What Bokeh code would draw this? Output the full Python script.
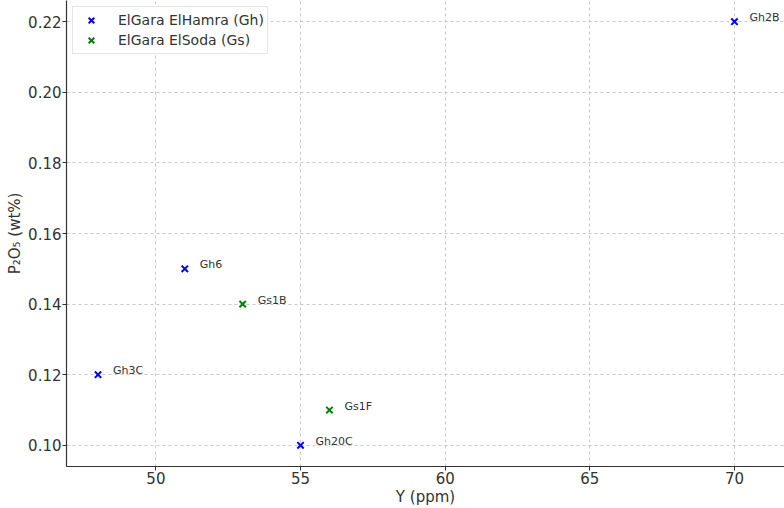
from bokeh.plotting import figure
from bokeh.models import ColumnDataSource, Range1d, FixedTicker, Legend, LegendItem, LabelSet, NumeralTickFormatter
from bokeh.core.properties import value
from bokeh.embed import file_html
from bokeh.resources import INLINE

gh_y = [70, 51, 48, 55]
gh_p = [0.22, 0.15, 0.12, 0.10]
gh_names = ["Gh2B", "Gh6", "Gh3C", "Gh20C"]
gs_y = [53, 56]
gs_p = [0.14, 0.11]
gs_names = ["Gs1B", "Gs1F"]
x_ticks = [50, 55, 60, 65, 70]
y_ticks = [0.10, 0.12, 0.14, 0.16, 0.18, 0.20, 0.22]

FONT = "DejaVu Sans"

p = figure(width=784, height=508, output_backend="svg", toolbar_location=None,
           x_range=Range1d(46.91, 71.73), y_range=Range1d(0.094, 0.226),
           min_border_left=66, min_border_right=0, min_border_top=0, min_border_bottom=42)
p.outline_line_color = None
p.background_fill_color = "white"
p.border_fill_color = "white"

for ax in (p.xaxis[0], p.yaxis[0]):
    ax.major_tick_in = 0
    ax.major_tick_out = 4
    ax.minor_tick_in = 0
    ax.minor_tick_out = 0
    ax.axis_line_color = "#333333"
    ax.axis_line_width = 1.2
    ax.major_tick_line_color = "#333333"
    ax.major_label_text_font = FONT
    ax.major_label_text_font_size = "15px"
    ax.major_label_text_color = "#333333"
    ax.major_label_text_line_height = 1.0
    ax.major_label_standoff = 1
    ax.axis_label_text_font = FONT
    ax.axis_label_text_font_size = "15px"
    ax.axis_label_text_font_style = "normal"
    ax.axis_label_text_color = "#333333"
    ax.axis_label_text_line_height = 1.0
    ax.axis_label_standoff = 1

p.xaxis[0].ticker = FixedTicker(ticks=x_ticks)
p.yaxis[0].ticker = FixedTicker(ticks=y_ticks)
p.yaxis[0].formatter = NumeralTickFormatter(format="0.00")
p.xaxis[0].axis_label = "Y (ppm)"
p.yaxis[0].axis_label = "P\u2082O\u2085 (wt%)"

for g in (p.xgrid[0], p.ygrid[0]):
    g.grid_line_color = "#b0b0b0"
    g.grid_line_dash = "3 3"
    g.grid_line_alpha = 0.7

src_gh = ColumnDataSource(dict(x=gh_y, y=gh_p, name=gh_names))
src_gs = ColumnDataSource(dict(x=gs_y, y=gs_p, name=gs_names))

r_gh = p.scatter("x", "y", source=src_gh, marker="x", size=9, line_color="#0000ff", line_width=2)
r_gs = p.scatter("x", "y", source=src_gs, marker="x", size=9, line_color="#008000", line_width=2)

for src in (src_gh, src_gs):
    lbl = LabelSet(x="x", y="y", text="name", source=src, x_offset=15, y_offset=4,
                   text_font=value(FONT), text_font_size="11px", text_color="#333333",
                   text_baseline="middle")
    p.add_layout(lbl)

legend = Legend(items=[LegendItem(label="ElGara ElHamra (Gh)", renderers=[r_gh]),
                       LegendItem(label="ElGara ElSoda (Gs)", renderers=[r_gs])],
                location="top_left")
legend.label_text_font = FONT
legend.label_text_font_size = "14px"
legend.label_text_color = "#333333"
legend.border_line_color = "#cccccc"
legend.border_line_width = 1
legend.background_fill_alpha = 0.9
legend.margin = 6
legend.padding = 3
legend.spacing = 0
legend.label_height = 20
legend.glyph_height = 20
legend.glyph_width = 30
legend.label_standoff = 12
p.add_layout(legend)

open("out.html", "w").write(file_html(p, INLINE))
